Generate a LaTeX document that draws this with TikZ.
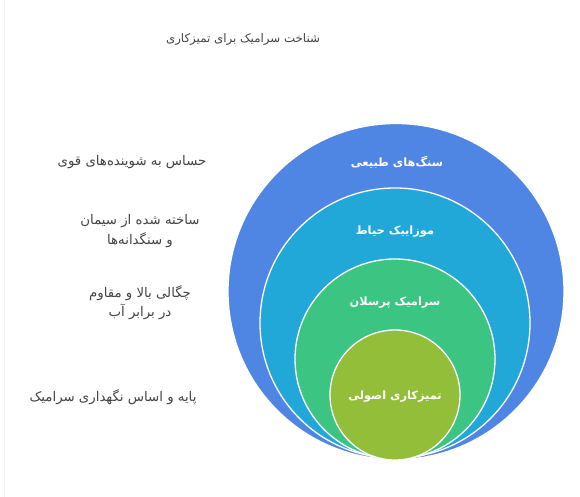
\documentclass[tikz,border=0pt]{standalone}
\usepackage{fontspec}
\setmainfont{DejaVu Sans}
\newfontfamily\arabicfont[Script=Arabic]{DejaVu Sans}
\TeXXeTstate=1
\definecolor{cA}{HTML}{4F86E3}
\definecolor{cB}{HTML}{22A8D8}
\definecolor{cC}{HTML}{3CC482}
\definecolor{cD}{HTML}{93BE3A}
\definecolor{txt}{HTML}{444444}
\begin{document}
\begin{tikzpicture}[x=1pt,y=1pt,
  ring/.style={circle,draw=white,line width=1.3pt,inner sep=0pt},
  ringlabel/.style={text=white,font=\arabicfont\fontsize{11.4}{13}\selectfont\bfseries},
  sidetext/.style={text=txt,align=center,font=\arabicfont\fontsize{13.3}{19.5}\selectfont},
  titletext/.style={text=txt,font=\arabicfont\fontsize{11.8}{14}\selectfont}]
\useasboundingbox (0,0) rectangle (580,497);
\fill[white] (0,0) rectangle (580,497);
\draw[black!6,line width=0.8pt] (4,0) -- (4,497);
\node[ring,fill=cA,minimum size=336pt] (c1) at (396,205.5) {};
\node[ring,fill=cB,minimum size=270pt] (c2) at (395,174) {};
\node[ring,fill=cC,minimum size=200pt] (c3) at (395,138) {};
\node[ring,fill=cD,minimum size=130pt] (c4) at (395,102) {};
\node[ringlabel] (l1) at (397,335) {\beginR سنگ‌های طبیعی\endR};
\node[ringlabel] (l2) at (395,265) {\beginR موزاییک حیاط\endR};
\node[ringlabel] (l3) at (395,194) {\beginR سرامیک پرسلان\endR};
\node[ringlabel] (l4) at (395,100) {\beginR تمیزکاری اصولی\endR};
\node[titletext] (title) at (243,458) {\beginR شناخت سرامیک برای تمیزکاری\endR};
\node[sidetext] (t1) at (132,335) {\beginR حساس به شوینده‌های قوی\endR};
\node[sidetext] (t2) at (140,266) {\beginR ساخته شده از سیمان\endR\\\beginR و سنگدانه‌ها\endR};
\node[sidetext] (t3) at (140,194.5) {\beginR چگالی بالا و مقاوم\endR\\\beginR در برابر آب\endR};
\node[sidetext] (t4) at (113,100) {\beginR پایه و اساس نگهداری سرامیک\endR};
\end{tikzpicture}
\end{document}
